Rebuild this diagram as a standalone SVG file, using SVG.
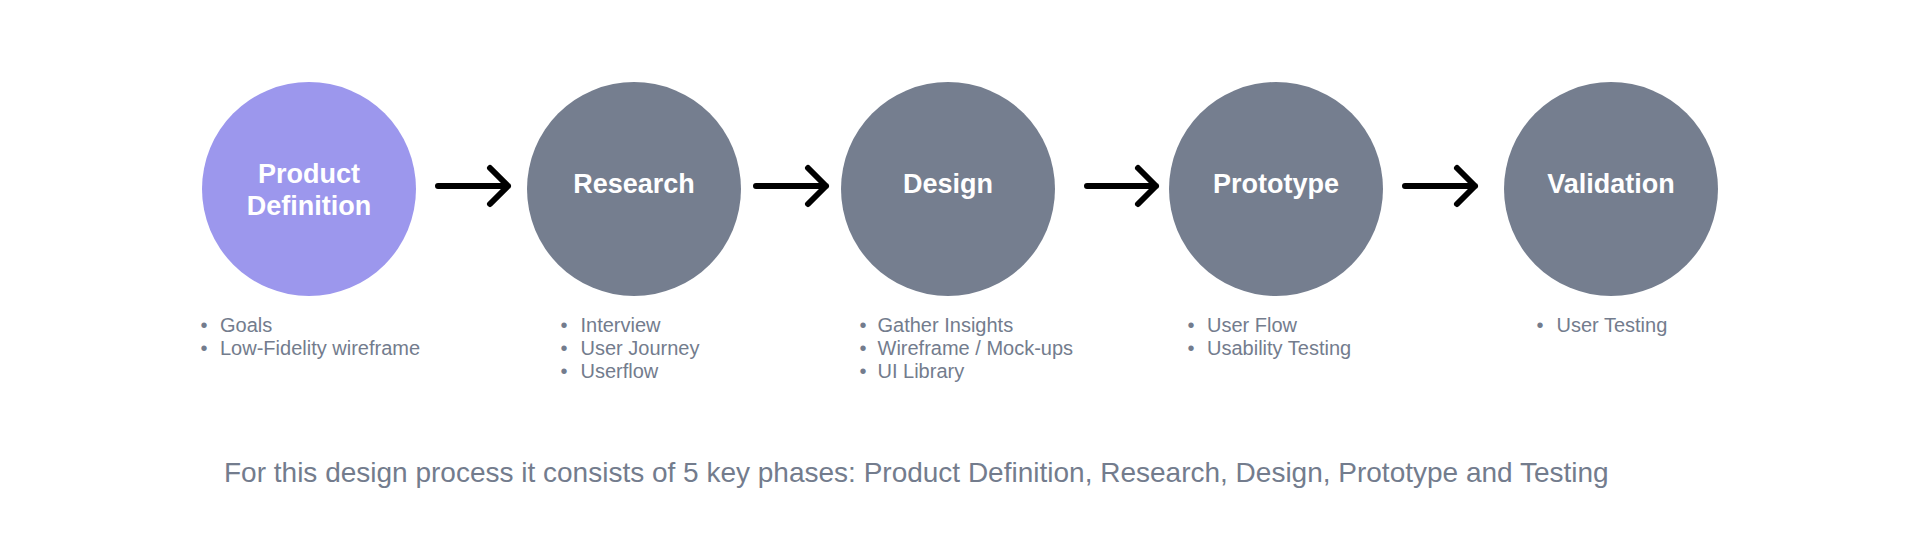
<svg xmlns="http://www.w3.org/2000/svg" width="1920" height="544" viewBox="0 0 1920 544">
<style>
.purple{fill:#9c97ed}
.gray{fill:#757e8f}
.title{font-family:"Liberation Sans",Arial,sans-serif;font-weight:bold;font-size:27px;fill:#ffffff;text-anchor:middle}
.item{font-family:"Liberation Sans",Arial,sans-serif;font-size:20px;fill:#737c8d}
.dot{font-family:"Liberation Sans",Arial,sans-serif;font-size:20px;fill:#737c8d;text-anchor:middle}
.caption{font-family:"Liberation Sans",Arial,sans-serif;font-size:28px;fill:#737c8d}
.arrow{fill:none;stroke:#000000;stroke-width:6;stroke-linecap:round;stroke-linejoin:round}
</style>
<rect width="1920" height="544" fill="#ffffff"/>
<g id="connectors">
<path class="arrow" d="M438 186 H508 M490 168 L508 186 L490 204"/>
<path class="arrow" d="M756 186 H826 M808 168 L826 186 L808 204"/>
<path class="arrow" d="M1087 186 H1156 M1138 168 L1156 186 L1138 204"/>
<path class="arrow" d="M1405 186 H1475 M1457 168 L1475 186 L1457 204"/>
</g>
<g id="product-definition">
<circle class="purple" cx="309" cy="189" r="107"/>
<text class="title" x="309" y="183">Product</text>
<text class="title" x="309" y="215">Definition</text>
<text class="dot" x="204" y="332">•</text><text class="item" x="220" y="332">Goals</text>
<text class="dot" x="204" y="355">•</text><text class="item" x="220" y="355">Low-Fidelity wireframe</text>
</g>
<g id="research">
<circle class="gray" cx="634" cy="189" r="107"/>
<text class="title" x="634" y="193">Research</text>
<text class="dot" x="564" y="332">•</text><text class="item" x="580.5" y="332">Interview</text>
<text class="dot" x="564" y="355">•</text><text class="item" x="580.5" y="355">User Journey</text>
<text class="dot" x="564" y="378">•</text><text class="item" x="580.5" y="378">Userflow</text>
</g>
<g id="design">
<circle class="gray" cx="948" cy="189" r="107"/>
<text class="title" x="948" y="193">Design</text>
<text class="dot" x="863" y="332">•</text><text class="item" x="877.5" y="332">Gather Insights</text>
<text class="dot" x="863" y="355">•</text><text class="item" x="877.5" y="355">Wireframe / Mock-ups</text>
<text class="dot" x="863" y="378">•</text><text class="item" x="877.5" y="378">UI Library</text>
</g>
<g id="prototype">
<circle class="gray" cx="1276" cy="189" r="107"/>
<text class="title" x="1276" y="193">Prototype</text>
<text class="dot" x="1191" y="332">•</text><text class="item" x="1207" y="332">User Flow</text>
<text class="dot" x="1191" y="355">•</text><text class="item" x="1207" y="355">Usability Testing</text>
</g>
<g id="validation">
<circle class="gray" cx="1611" cy="189" r="107"/>
<text class="title" x="1611" y="193">Validation</text>
<text class="dot" x="1540" y="332">•</text><text class="item" x="1556.5" y="332">User Testing</text>
</g>
<text class="caption" x="224" y="482">For this design process it consists of 5 key phases: Product Definition, Research, Design, Prototype and Testing</text>
</svg>
